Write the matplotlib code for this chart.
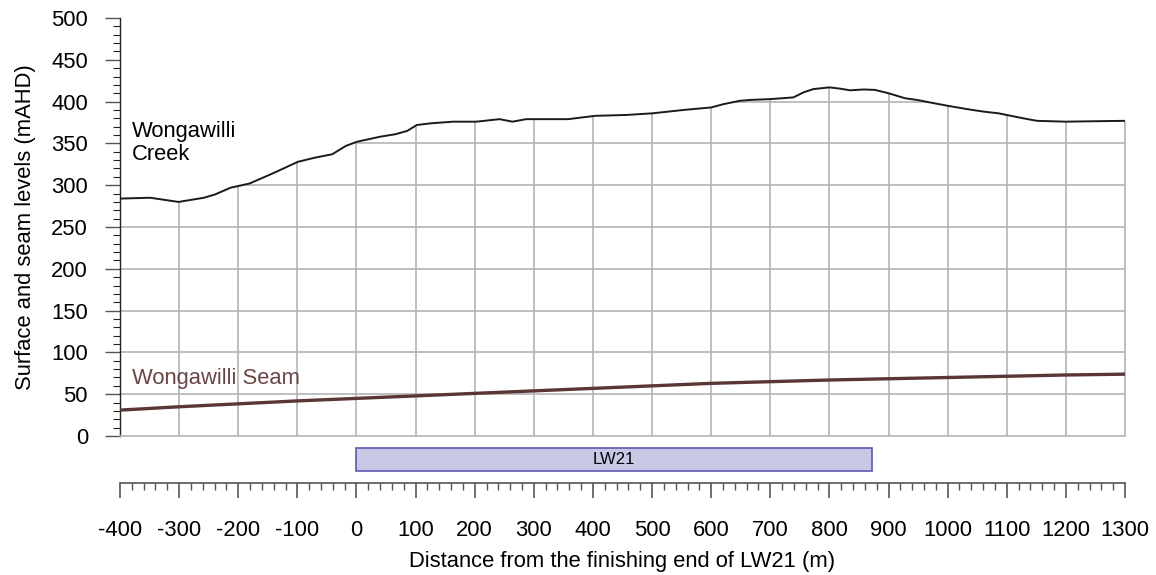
import numpy as np
import matplotlib
matplotlib.use('Agg')
import matplotlib.pyplot as plt
from matplotlib.patches import Rectangle
from matplotlib.ticker import MultipleLocator

plt.rcParams['font.family'] = ['Liberation Sans', 'DejaVu Sans']
plt.rcParams['axes.unicode_minus'] = False

# ==========================================
# data
# ==========================================
# surface profile along Wongawilli Creek
surf_x = [-400, -349, -301, -258, -239, -213, -181, -142, -99, -70, -41, -18, 1, 40, 66,
          86, 102, 125, 164, 203, 242, 264, 287, 358, 404, 456, 501, 553, 600, 621,
          649, 666, 700, 739, 756, 773, 800, 818, 835, 858, 877, 900, 928, 948, 970,
          1000, 1033, 1061, 1086, 1100, 1128, 1151, 1200, 1247, 1300]
surf_z = [284, 285, 280, 285, 289, 297, 302, 314, 328, 333, 337, 347, 352, 358, 361,
          365, 372, 374, 376, 376, 379, 376, 379, 379, 383, 384, 386, 390, 393, 397,
          401, 402, 403, 405, 411, 415, 417, 415.5, 413.5, 414.5, 414, 410, 404, 402, 399,
          395, 391, 388, 386, 384, 380, 377, 376, 376.5, 377]

# Wongawilli seam floor
seam_x = [-400, -300, -200, -100, 0, 100, 200, 300, 400, 500, 600, 700, 800, 900,
          1000, 1100, 1200, 1300]
seam_z = [31, 35, 38.5, 42, 45, 48, 51, 54, 57, 60, 63, 65, 67, 68.5, 70, 71.5, 73, 74]

# longwall extent
LW_NAME = 'LW21'
LW_START = 0
LW_END = 872

X_MIN, X_MAX = -400, 1300
Y_MIN, Y_MAX = 0, 500

GRID_C = '#b4b4b4'
SEAM_C = '#5a3636'
FS = 15.8


def make_plot():
    fig = plt.figure(figsize=(11.56, 5.75), dpi=100)
    ax = fig.add_axes([0.1038, 0.2417, 0.8694, 0.727])

    ax.set_xlim(X_MIN, X_MAX)
    ax.set_ylim(Y_MIN, Y_MAX)
    ax.yaxis.set_major_locator(MultipleLocator(50))
    ax.yaxis.set_minor_locator(MultipleLocator(10))

    # 横向网格 + 白色遮罩（网格只画在地表以下）
    gy = np.arange(50, Y_MAX, 50)
    ax.hlines(gy, X_MIN, X_MAX, color=GRID_C, lw=1.2, zorder=0.5)
    ax.fill_between(surf_x, surf_z, Y_MAX, color='white', lw=0, zorder=1)

    # 竖向网格，从 0 画到地表
    gx = np.arange(-300, X_MAX + 1, 100)
    ax.vlines(gx, 0, np.interp(gx, surf_x, surf_z), color=GRID_C, lw=1.2,
              zorder=1.2, clip_on=False)

    ax.plot(surf_x, surf_z, color='#1a1a1a', lw=1.4, zorder=3)
    ax.plot(seam_x, seam_z, color=SEAM_C, lw=2.4, zorder=3,
            solid_capstyle='butt')

    ax.text(-380, 350, 'Wongawilli\nCreek', fontsize=FS, va='center', ha='left',
            linespacing=1.12, zorder=4)
    ax.text(-380, 69, 'Wongawilli Seam', fontsize=FS, va='center', ha='left',
            color='#6b4545', zorder=4)

    # longwall box under the section
    ax.add_patch(Rectangle((LW_START, -42), LW_END - LW_START, 27.5,
                           facecolor='#c9c8e6', edgecolor='#5a5ab0', lw=1.2,
                           clip_on=False, zorder=3))
    ax.text((LW_START + LW_END) / 2, -28.5, LW_NAME, fontsize=12, ha='center',
            va='center', clip_on=False)

    for s in ['top', 'right']:
        ax.spines[s].set_visible(False)
    ax.spines['bottom'].set_color(GRID_C)
    ax.spines['bottom'].set_linewidth(1.2)
    ax.spines['left'].set_color('#222222')
    ax.spines['left'].set_linewidth(1.0)
    ax.tick_params(axis='x', bottom=False, labelbottom=False)
    ax.tick_params(axis='y', which='major', length=11, width=1.0, color='#555555',
                   labelsize=FS, pad=12)
    ax.tick_params(axis='y', which='minor', length=5, width=0.8, color='#222222')
    ax.set_ylabel('Surface and seam levels (mAHD)', fontsize=FS, labelpad=11)

    # separate distance axis
    ax2 = fig.add_axes([0.1038, 0.1605, 0.8694, 0.0001])
    ax2.set_xlim(X_MIN, X_MAX)
    ax2.set_yticks([])
    for s in ['top', 'right', 'left']:
        ax2.spines[s].set_visible(False)
    ax2.spines['bottom'].set_color('#555555')
    ax2.spines['bottom'].set_linewidth(1.2)
    ax2.xaxis.set_major_locator(MultipleLocator(100))
    ax2.xaxis.set_minor_locator(MultipleLocator(20))
    ax2.tick_params(axis='x', which='major', length=11, width=1.2, color='#555555',
                    labelsize=FS, pad=16)
    ax2.tick_params(axis='x', which='minor', length=5, width=1.0, color='#555555')
    ax2.set_xlabel('Distance from the finishing end of LW21 (m)', fontsize=FS,
                   labelpad=7)

    fig.savefig('out.png', dpi=100)


if __name__ == '__main__':
    make_plot()
